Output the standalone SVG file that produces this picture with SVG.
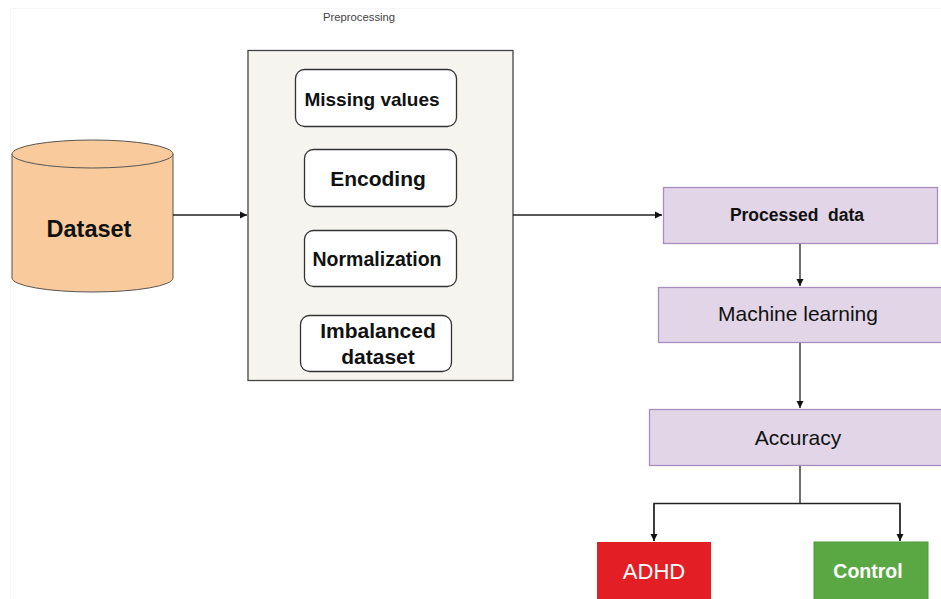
<svg xmlns="http://www.w3.org/2000/svg" width="941" height="599" viewBox="0 0 941 599">
<defs>
<marker id="ah" markerWidth="8" markerHeight="8" refX="7" refY="4" orient="auto" markerUnits="userSpaceOnUse">
<path d="M0,0.5 L7,4 L0,7.5 Z" fill="#111"/>
</marker>
<style>
.t{font-family:"Liberation Sans",Arial,sans-serif;text-anchor:middle;dominant-baseline:central;fill:#111}
.b{font-weight:bold}
.w{fill:#fff}
.sub{fill:#fff;stroke:#333;stroke-width:1.3}
.pur{fill:#e1d5e7;stroke:#a98dc0;stroke-width:1.3}
.c{fill:none;stroke:#222;stroke-width:1.3}
</style>
</defs>
<rect width="941" height="599" fill="#fff"/>
<path d="M10.5,599 V8.5 H941" fill="none" stroke="#f6f6f6" stroke-width="1"/>
<g id="dataset">
<path d="M12,154 V278 A80.5,14 0 0 0 173,278 V154" fill="#f9cb9c" stroke="#555" stroke-width="1"/>
<ellipse cx="92.5" cy="154" rx="80.5" ry="14" fill="#f9cb9c" stroke="#555" stroke-width="1"/>
<text class="t b" x="89" y="229" font-size="23.5">Dataset</text>
</g>
<g id="preprocessing">
<text class="t" x="359" y="17" font-size="11.3" style="fill:#444">Preprocessing</text>
<rect x="248" y="50.5" width="265" height="330" fill="#f5f4ef" stroke="#444" stroke-width="1.3"/>
</g>
<g id="missing">
<rect class="sub" x="295.5" y="69.5" width="161" height="57" rx="9"/>
<text class="t b" x="372" y="99" font-size="19">Missing values</text>
</g>
<g id="encoding">
<rect class="sub" x="304.5" y="149.5" width="152" height="57" rx="9"/>
<text class="t b" x="378" y="178" font-size="21">Encoding</text>
</g>
<g id="normalization">
<rect class="sub" x="304.5" y="230.5" width="152" height="56" rx="9"/>
<text class="t b" x="377" y="259" font-size="19.5">Normalization</text>
</g>
<g id="imbalanced">
<rect class="sub" x="300.5" y="315.5" width="151" height="56" rx="9"/>
<text class="t b" x="378" y="330" font-size="21">Imbalanced</text>
<text class="t b" x="378" y="356" font-size="21">dataset</text>
</g>
<g id="processed">
<rect class="pur" x="663.5" y="187.5" width="274" height="56"/>
<text class="t b" x="797" y="215" font-size="17.5" xml:space="preserve">Processed  data</text>
</g>
<g id="ml">
<rect class="pur" x="658.5" y="287.5" width="290" height="55"/>
<text class="t" x="798" y="313" font-size="21">Machine learning</text>
</g>
<g id="accuracy">
<rect class="pur" x="649.5" y="409.5" width="300" height="56"/>
<text class="t" x="798" y="437" font-size="21">Accuracy</text>
</g>
<g id="adhd">
<rect x="597" y="542" width="114" height="60" fill="#e31e24"/>
<text class="t w" x="654" y="571" font-size="22">ADHD</text>
</g>
<g id="control">
<rect x="814" y="542" width="114" height="60" fill="#5aa843" stroke="#4a9a38" stroke-width="1"/>
<text class="t b w" x="868" y="571" font-size="19.5">Control</text>
</g>
<g id="connectors">
<path class="c" d="M173,215 H247" marker-end="url(#ah)"/>
<path class="c" d="M513,215 H662" marker-end="url(#ah)"/>
<path class="c" d="M800,244 V286" marker-end="url(#ah)"/>
<path class="c" d="M800,343 V408" marker-end="url(#ah)"/>
<path class="c" d="M800,466 V503.5 M654,541 V503.5 H900 V541"/>
<path class="c" d="M654,503.5 V541" marker-end="url(#ah)"/>
<path class="c" d="M900,503.5 V541" marker-end="url(#ah)"/>
</g>
</svg>
